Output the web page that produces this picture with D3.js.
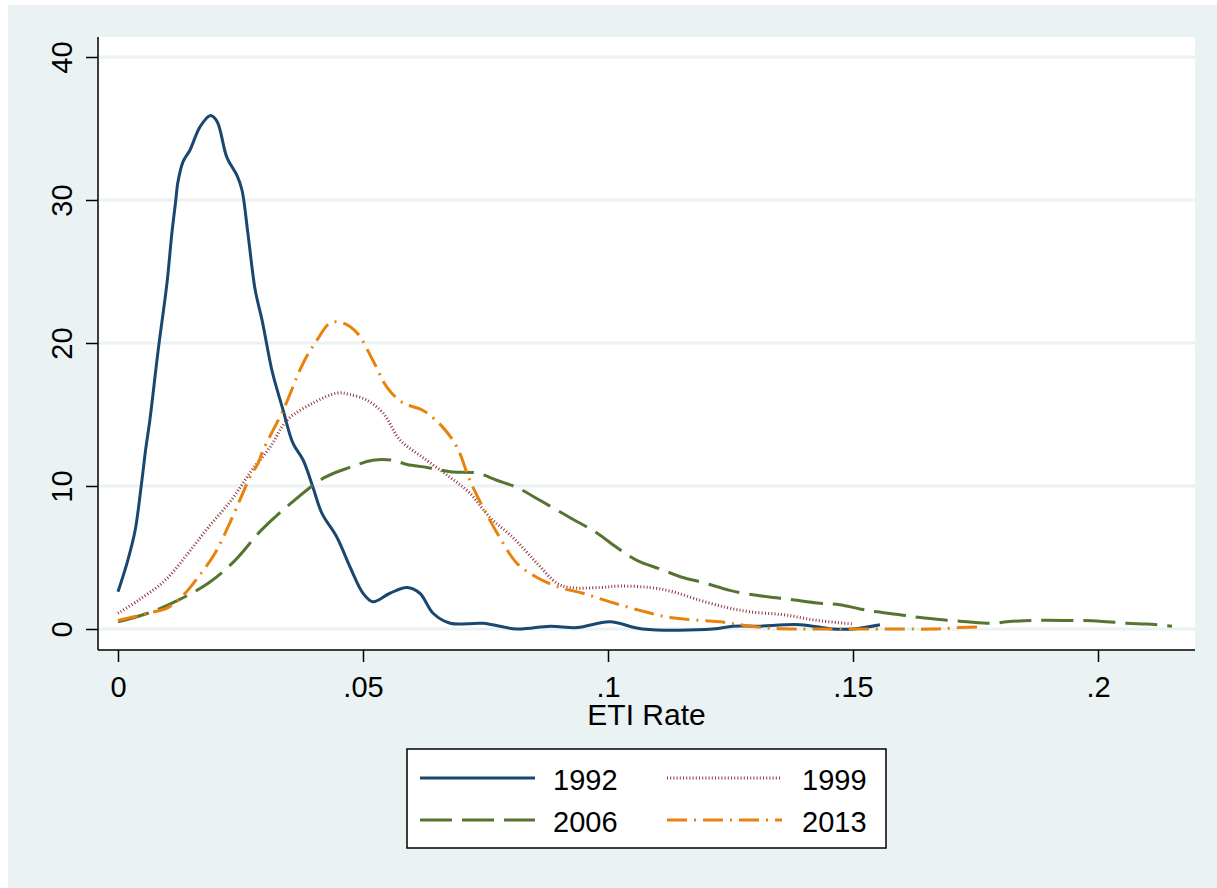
<!DOCTYPE html>
<html>
<head>
<meta charset="utf-8">
<script src="https://cdn.jsdelivr.net/npm/d3@7"></script>
<style>
  body { margin: 0; background: #fff; }
  text { font-family: "Liberation Sans", Arial, sans-serif; fill: #000; }
</style>
</head>
<body>
<div id="chart"></div>
<script>
// ETI rate kernel densities
const x1992 = [0, .002, .0035, .0047, .0057, .0065, .0082, .010, .011, .0118, .0122, .0133, .0147, .0167,
  .0188, .0202, .0222, .0243, .0253, .0265, .028, .0294, .0314, .0325, .0337, .0357, .0378, .0398, .0416,
  .0447, .0474, .05, .052, .0555, .059, .0616, .0643, .0678, .0745, .0814, .0882, .0937, .1004, .1071,
  .1214, .1255, .1304, .1392, .1459, .15, .1555];
const y1992 = [2.6, 4.8, 6.9, 9.9, 12.7, 14.6, 19.5, 24.2, 27.7, 30, 31.2, 32.7, 33.5, 35.1,
  35.9, 35.5, 33, 31.7, 30.7, 27.7, 23.7, 21.6, 18.1, 16.7, 15.3, 13, 11.8, 9.9, 8.1,
  6.4, 4.3, 2.5, 1.9, 2.5, 2.9, 2.5, 1.1, 0.4, 0.4, 0, 0.2, 0.1, 0.5, 0,
  0, 0.2, 0.2, 0.3, 0, 0, 0.3];

const x1999 = [0, .0041, .0096, .0143, .0184, .0231, .0271, .0312, .0345, .0398, .0447, .0473, .0508, .0541,
  .0576, .0622, .0678, .0718, .0759, .0806, .0855, .0896, .0922, .0984, .1024, .1086, .1133, .1188,
  .1243, .129, .1357, .1427, .15];
const y1999 = [1.1, 2.0, 3.4, 5.3, 7.1, 9.0, 11.0, 12.8, 14.6, 15.8, 16.5, 16.4, 16.0, 15.1,
  13.2, 12.0, 10.6, 9.5, 7.8, 6.4, 4.6, 3.2, 2.9, 2.9, 3.0, 2.9, 2.6, 2.0,
  1.5, 1.2, 1.0, 0.6, 0.35];

const x2006 = [0, .0061, .0122, .0184, .0239, .0292, .0353, .0422, .0473, .052, .0561, .059, .0631, .0678, .0733,
  .0773, .0814, .0861, .0922, .0978, .1018, .1059, .1106, .1153, .1188, .1249, .1276, .1337, .1365, .1433,
  .1473, .1514, .1549, .1596, .1637, .1698, .1733, .1786, .1814, .1867, .1937, .2004, .2059, .21, .2151];
const y2006 = [0.5, 1.1, 2.0, 3.2, 4.8, 6.9, 8.8, 10.6, 11.3, 11.8, 11.8, 11.5, 11.3, 11.0, 10.9,
  10.4, 9.9, 9.0, 7.8, 6.7, 5.7, 4.8, 4.2, 3.6, 3.3, 2.7, 2.5, 2.2, 2.1, 1.8,
  1.7, 1.4, 1.2, 1.0, 0.8, 0.6, 0.5, 0.4, 0.5, 0.6, 0.6, 0.55, 0.4, 0.35, 0.2];

const x2013 = [0, .0061, .0102, .0137, .0163, .0198, .0224, .0251, .0269, .0286, .0296, .0337, .0378, .0406, .0433,
  .0459, .0488, .052, .0549, .0582, .0622, .0663, .0692, .0718, .0745, .0786, .0814, .0855, .0902, .0949,
  .1004, .1065, .1127, .1188, .1229, .1269, .1337, .1433, .1582, .1663, .1718, .1765];
const y2013 = [0.6, 1.1, 1.5, 2.5, 3.6, 5.3, 7.1, 9.2, 10.6, 11.6, 12.5, 15.3, 18.6, 20.2, 21.4,
  21.4, 20.7, 18.8, 16.9, 15.8, 15.3, 14.1, 12.7, 10.4, 8.5, 6.0, 4.6, 3.6, 2.9, 2.5,
  1.9, 1.3, 0.8, 0.6, 0.5, 0.3, 0.05, 0, 0, 0, 0.1, 0.15];

const seriesNames = ["1992", "1999", "2006", "2013"];
const xTicks = [0, .05, .1, .15, .2];
const xTickLabels = ["0", ".05", ".1", ".15", ".2"];
const yTicks = [0, 10, 20, 30, 40];
const xTitle = "ETI Rate";

const W = 1217, H = 888;
const bg = "#EAF2F3";
const styles = {
  "1992": { color: "#1A476F", dash: null, width: 3 },
  "1999": { color: "#90353B", dash: "1,2.2", width: 3 },
  "2006": { color: "#55752F", dash: "32,10", width: 3 },
  "2013": { color: "#E8820C", dash: "20,7,2,7", width: 3 }
};

const svg = d3.select("#chart").append("svg")
  .attr("width", W).attr("height", H)
  .attr("viewBox", [0, 0, W, H]);

svg.append("rect").attr("x", 8).attr("y", 5)
  .attr("width", W - 8).attr("height", H - 5).attr("fill", bg);

// plot region
const plot = { left: 98, top: 37, right: 1195, bottom: 650 };
svg.append("rect")
  .attr("x", plot.left).attr("y", plot.top)
  .attr("width", plot.right - plot.left).attr("height", plot.bottom - plot.top)
  .attr("fill", "#fff");

const x = d3.scaleLinear().domain([0, .2]).range([118, 1098]);
const y = d3.scaleLinear().domain([0, 40]).range([629, 57]);

// gridlines
svg.append("g").selectAll("line")
  .data(yTicks)
  .join("line")
  .attr("x1", plot.left).attr("x2", plot.right)
  .attr("y1", d => y(d)).attr("y2", d => y(d))
  .attr("stroke", bg).attr("stroke-width", 3);

// curves
const line = d3.line()
  .x(d => x(d[0])).y(d => y(d[1]))
  .curve(d3.curveCatmullRom.alpha(0.5));

const seriesData = {
  "1992": d3.zip(x1992, y1992),
  "1999": d3.zip(x1999, y1999),
  "2006": d3.zip(x2006, y2006),
  "2013": d3.zip(x2013, y2013)
};

svg.append("g").selectAll("path")
  .data(seriesNames)
  .join("path")
  .attr("d", d => line(seriesData[d]))
  .attr("fill", "none")
  .attr("stroke", d => styles[d].color)
  .attr("stroke-width", d => styles[d].width)
  .attr("stroke-dasharray", d => styles[d].dash)
  .attr("stroke-linejoin", "round");

// axes
const xAxis = svg.append("g")
  .attr("transform", `translate(0,${plot.bottom})`)
  .call(d3.axisBottom(x).tickValues(xTicks).tickFormat((d, i) => xTickLabels[i]).tickSize(12).tickSizeOuter(0));
xAxis.select(".domain").remove();
xAxis.selectAll(".tick line").attr("stroke", "#000").attr("stroke-width", 1.5);
xAxis.selectAll(".tick text").attr("y", 47).attr("dy", 0).style("font-size", "29px");

const yAxis = svg.append("g")
  .attr("transform", `translate(${plot.left},0)`)
  .call(d3.axisLeft(y).tickValues(yTicks).tickSize(12).tickSizeOuter(0));
yAxis.select(".domain").remove();
yAxis.selectAll(".tick line").attr("stroke", "#000").attr("stroke-width", 1.5);
yAxis.selectAll(".tick text")
  .attr("x", 0).attr("dy", 0)
  .attr("text-anchor", "middle")
  .attr("transform", "translate(-26,0) rotate(-90)")
  .style("font-size", "29px");

svg.append("line")
  .attr("x1", plot.left).attr("x2", plot.left)
  .attr("y1", plot.top).attr("y2", plot.bottom)
  .attr("stroke", "#000").attr("stroke-width", 1.5);
svg.append("line")
  .attr("x1", plot.left).attr("x2", plot.right)
  .attr("y1", plot.bottom).attr("y2", plot.bottom)
  .attr("stroke", "#000").attr("stroke-width", 1.5);

svg.append("text")
  .attr("x", (plot.left + plot.right) / 2).attr("y", 725)
  .attr("text-anchor", "middle")
  .style("font-size", "30px")
  .text(xTitle);

// legend
const legend = svg.append("g");
legend.append("rect")
  .attr("x", 407).attr("y", 749).attr("width", 479).attr("height", 99)
  .attr("fill", "#fff").attr("stroke", "#000").attr("stroke-width", 1.5);

const legPos = [
  { sx: 420, tx: 553, cy: 778 },
  { sx: 667, tx: 802, cy: 778 },
  { sx: 420, tx: 553, cy: 820 },
  { sx: 667, tx: 802, cy: 820 }
];

const items = legend.selectAll("g.item")
  .data(seriesNames)
  .join("g").attr("class", "item");

items.append("line")
  .attr("x1", (d, i) => legPos[i].sx).attr("x2", (d, i) => legPos[i].sx + 115)
  .attr("y1", (d, i) => legPos[i].cy).attr("y2", (d, i) => legPos[i].cy)
  .attr("stroke", d => styles[d].color)
  .attr("stroke-width", d => styles[d].width)
  .attr("stroke-dasharray", d => styles[d].dash);

items.append("text")
  .attr("x", (d, i) => legPos[i].tx).attr("y", (d, i) => legPos[i].cy + 12)
  .style("font-size", "29px")
  .text(d => d);
</script>
</body>
</html>
